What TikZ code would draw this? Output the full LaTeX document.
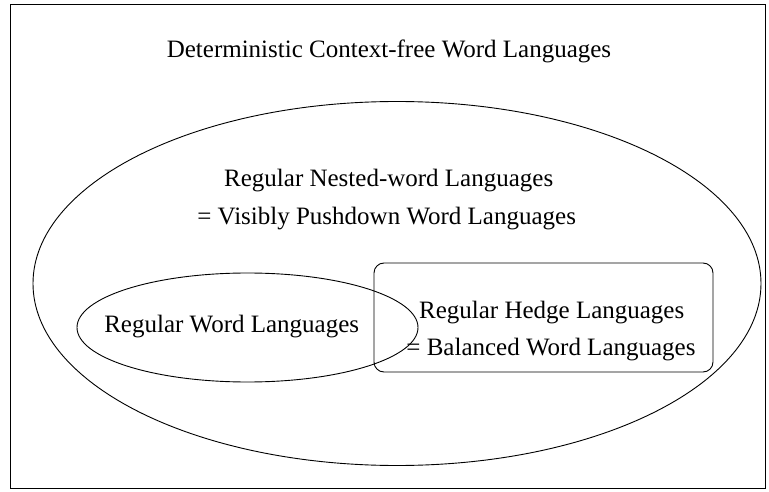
\documentclass[tikz,border=0pt]{standalone}
\usepackage{fontspec}
\setmainfont{Liberation Serif}
\usetikzlibrary{shapes.geometric}
\begin{document}
\begin{tikzpicture}[x=1pt,y=-1pt,line width=0.9pt,
  lbl/.style={font=\fontsize{25}{29}\selectfont, inner sep=0pt, anchor=base}]
\useasboundingbox (0,0) rectangle (769,492);
\node[draw, rectangle, minimum width=755pt, minimum height=484pt, inner sep=0pt] (frame) at (387.5,246) {};
\node[draw, ellipse, minimum width=728pt, minimum height=364pt, inner sep=0pt] (dcfl) at (397,283.5) {};
\node[draw, ellipse, minimum width=341pt, minimum height=109pt, inner sep=0pt] (rwl) at (247.5,327.5) {};
\node[draw, rectangle, rounded corners=10pt, minimum width=339pt, minimum height=109pt, inner sep=0pt] (rhl) at (543.5,317.5) {};
\node[lbl] (t1) at (389,58) {Deterministic Context-free Word Languages};
\node[lbl] (t2) at (388.7,186.7) {Regular Nested-word Languages};
\node[lbl] (t3) at (386.7,225) {= Visibly Pushdown Word Languages};
\node[lbl] (t4) at (231.7,332.3) {Regular Word Languages};
\node[lbl] (t5) at (551.7,318) {Regular Hedge Languages};
\node[lbl] (t6) at (551,355) {= Balanced Word Languages};
\end{tikzpicture}
\end{document}
